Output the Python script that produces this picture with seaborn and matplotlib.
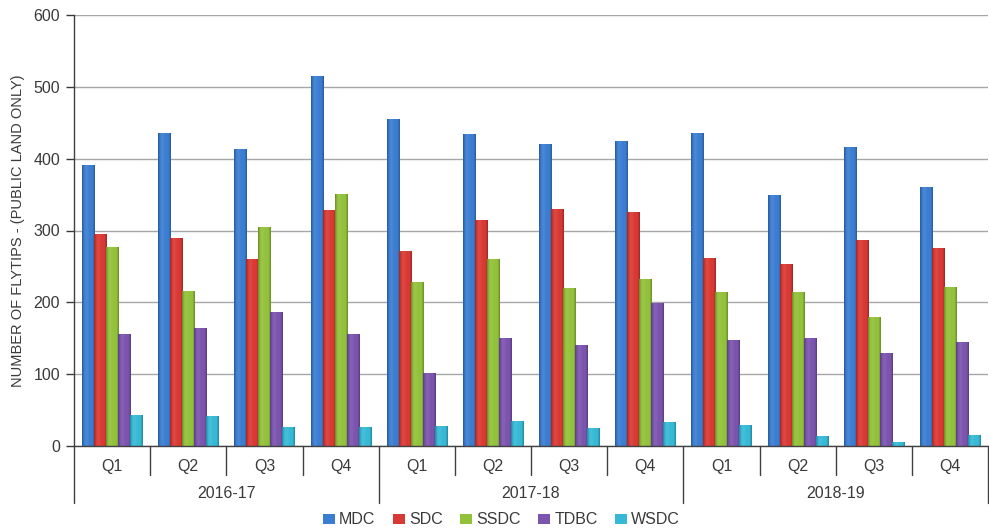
import numpy as np
import pandas as pd
import matplotlib
matplotlib.use("Agg")
import matplotlib.pyplot as plt
import matplotlib.colors as mcolors
import seaborn as sns

years = ["2016-17", "2017-18", "2018-19"]
quarters = ["Q1", "Q2", "Q3", "Q4"]
councils = ["MDC", "SDC", "SSDC", "TDBC", "WSDC"]

mdc = [391, 436, 414, 515, 455, 434, 421, 425, 436, 350, 416, 360]
sdc = [295, 290, 261, 329, 272, 315, 330, 326, 262, 254, 287, 275]
ssdc = [277, 216, 305, 351, 228, 260, 220, 232, 215, 215, 179, 222]
tdbc = [156, 164, 187, 156, 101, 151, 140, 199, 148, 150, 130, 145]
wsdc = [43, 42, 27, 27, 28, 35, 25, 33, 29, 14, 6, 16]

colors = ["#3b7dd1", "#d93934", "#92c13a", "#7b54ae", "#36b9d6"]

periods = [f"{y} {q}" for y in years for q in quarters]
series = dict(zip(councils, [mdc, sdc, ssdc, tdbc, wsdc]))
df = pd.DataFrame(
    [(p, c, v) for c in councils for p, v in zip(periods, series[c])],
    columns=["period", "council", "count"],
)

sns.set_theme(style="white")
plt.rcParams["font.family"] = ["Liberation Sans", "DejaVu Sans"]
text_col = "#3a3a3a"
fs = 11.5

fig = plt.figure(figsize=(9.89, 5.30), dpi=100)
ax = fig.add_axes([74 / 989, 1 - 446 / 530, 1 - 74 / 989 - 0.001, (446 - 15) / 530])

sns.barplot(
    data=df, x="period", y="count", hue="council", order=periods,
    hue_order=councils, palette=colors, width=0.79, gap=0,
    edgecolor="none", linewidth=0, saturation=1, legend=False, ax=ax,
)

# cylinder-like shading across each bar: dark rims, flat body, soft highlight
prof = np.linspace(0, 1, 64)
rim = np.minimum(prof, 1 - prof)
shade = 0.72 + 0.28 * np.clip(rim / 0.18, 0, 1)
shade = shade + 0.08 * np.exp(-((prof - 0.35) / 0.15) ** 2)


def shaded_row(rgb):
    out = []
    for s in shade:
        if s <= 1:
            out.append(rgb * s)
        else:
            out.append(rgb + (1 - rgb) * (s - 1))
    return np.clip(np.array(out), 0, 1)


for bar in list(ax.patches):
    h = bar.get_height()
    if h <= 0:
        continue
    rgb = np.array(mcolors.to_rgb(bar.get_facecolor()))
    img = shaded_row(rgb)[None, :, :]
    x0, w = bar.get_x(), bar.get_width()
    im = ax.imshow(img, extent=[x0, x0 + w, 0, h], aspect="auto",
                   interpolation="bilinear", zorder=bar.get_zorder() + 0.1)
    im.set_clip_path(bar)

ax.set_xlim(-0.5, len(periods) - 0.5)
ax.set_ylim(0, 600)
ax.set_yticks(range(0, 601, 100))
ax.tick_params(axis="y", labelsize=fs, colors=text_col, length=6,
               width=1, direction="out", left=True, pad=4)
for lab in ax.get_yticklabels():
    lab.set_color(text_col)
ax.set_xticks([])
ax.set_xlabel("")
ax.set_ylabel("NUMBER OF FLYTIPS - (PUBLIC LAND ONLY)", fontsize=10.5,
              color=text_col, labelpad=6)

ax.yaxis.grid(True, color="#a6a6a6", linewidth=1)
ax.set_axisbelow(True)
for side in ["top", "right"]:
    ax.spines[side].set_visible(False)
for side in ["left", "bottom"]:
    ax.spines[side].set_color("#404040")
    ax.spines[side].set_linewidth(1)

# two-level category axis
trans = ax.get_xaxis_transform()
axh = (446 - 15)
for i in range(len(periods)):
    ax.text(i, -21 / axh, quarters[i % 4], transform=trans, ha="center",
            va="center", fontsize=fs, color=text_col)
for b in range(len(periods) + 1):
    is_year = b % 4 == 0
    bottom = -57 / axh if is_year else -29 / axh
    ax.plot([b - 0.5, b - 0.5], [0, bottom], transform=trans, color="#404040",
            linewidth=1, clip_on=False)
for k, y in enumerate(years):
    ax.text(4 * k + 1.5, -47 / axh, y, transform=trans, ha="center",
            va="center", fontsize=fs, color=text_col)

handles = [plt.Rectangle((0, 0), 1, 1, facecolor=c, edgecolor="none") for c in colors]
fig.legend(handles, councils, loc="center", bbox_to_anchor=(0.507, 1 - 520 / 530),
           ncol=5, frameon=False, fontsize=fs, handlelength=0.75,
           handleheight=0.6, handletextpad=0.25, columnspacing=1.1,
           labelcolor=text_col, borderpad=0)

fig.savefig("out.png", dpi=100)
